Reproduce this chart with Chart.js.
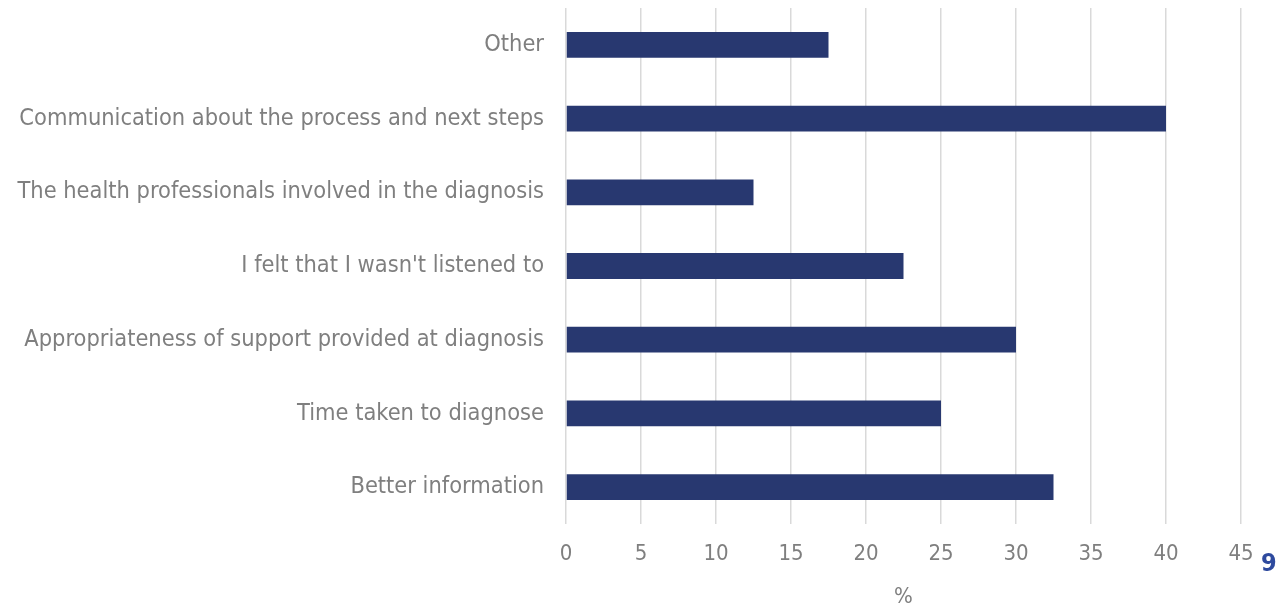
<!DOCTYPE html>
<html>
<head>
<meta charset="utf-8">
<script src="https://cdn.jsdelivr.net/npm/chart.js@4"></script>
<style>
  html, body { margin: 0; padding: 0; background: #ffffff; }
  #wrap { position: relative; width: 1278px; height: 606px; }
  #pagenum { position: absolute; left: 1261px; top: 548px; font-family: "DejaVu Sans Condensed", "DejaVu Sans", sans-serif; font-weight: bold; font-size: 25px; color: #2e4a9e; }
</style>
</head>
<body>
<div id="wrap">
  <canvas id="grafico" width="1278" height="606"></canvas>
  <div id="pagenum">9</div>
</div>
<script>
const categorias = [
  'Other',
  'Communication about the process and next steps',
  'The health professionals involved in the diagnosis',
  "I felt that I wasn't listened to",
  'Appropriateness of support provided at diagnosis',
  'Time taken to diagnose',
  'Better information'
];
const valores = [17.5, 40, 12.5, 22.5, 30, 25, 32.5];

const FONTE = '"DejaVu Sans Condensed", "DejaVu Sans", sans-serif';
const CINZA = '#7f7f7f';

const ctx = document.getElementById('grafico');
const grafico = new Chart(ctx, {
  type: 'bar',
  data: {
    labels: categorias,
    datasets: [{
      data: valores,
      backgroundColor: '#283870',
      barPercentage: 0.35,
      categoryPercentage: 1
    }]
  },
  options: {
    indexAxis: 'y',
    responsive: false,
    animation: false,
    layout: { padding: { top: 8, right: 37, left: 0, bottom: 0 } },
    plugins: {
      legend: { display: false },
      tooltip: { enabled: false }
    },
    scales: {
      x: {
        min: 0,
        max: 45,
        ticks: { stepSize: 5, color: CINZA, font: { family: FONTE, size: 22 }, padding: 17 },
        grid: { color: '#d9d9d9', lineWidth: 1.5, drawTicks: false },
        border: { display: false },
        title: { display: true, text: '%', color: CINZA, font: { family: FONTE, size: 22 }, padding: { top: 4, bottom: -4 } },
        afterFit: (s) => { s.height = 82; }
      },
      y: {
        ticks: { color: CINZA, font: { family: FONTE, size: 23.4 }, padding: 22 },
        grid: { display: false, drawTicks: false },
        border: { display: false },
        afterFit: (s) => { s.width = 566; s.paddingTop = 0; s.paddingBottom = 0; }
      }
    }
  }
});
</script>
</body>
</html>
